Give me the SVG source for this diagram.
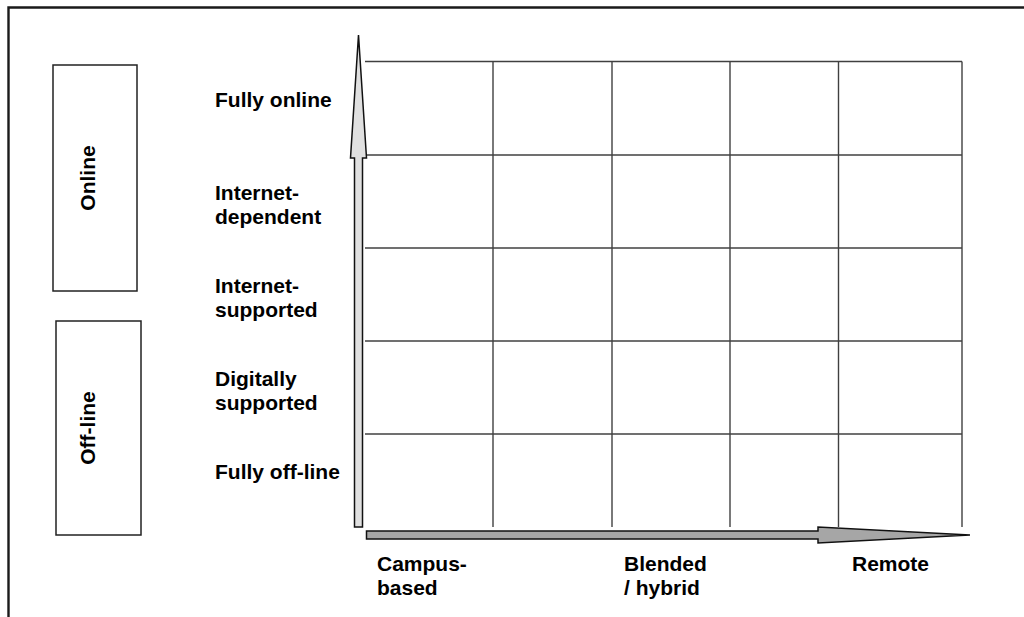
<svg xmlns="http://www.w3.org/2000/svg" width="1024" height="617" viewBox="0 0 1024 617">
<style>
.lbl{font-family:"Liberation Sans",Arial,sans-serif;font-weight:bold;font-size:21px;fill:#000}
.grid line{stroke:#404040;stroke-width:1.4}
.box{fill:#fff;stroke:#222;stroke-width:1.5}
</style>
<rect width="1024" height="617" fill="#fff"/>
<g id="frame">
<path d="M8.5,617 V7.5 H1024" fill="none" stroke="#1a1a1a" stroke-width="2.4"/>
</g>
<g id="online">
<rect class="box" x="53" y="65" width="84" height="226"/>
<text class="lbl" transform="translate(95,178) rotate(-90)" text-anchor="middle">Online</text>
</g>
<g id="offline">
<rect class="box" x="56" y="321" width="85" height="214"/>
<text class="lbl" transform="translate(95,428) rotate(-90)" text-anchor="middle">Off-line</text>
</g>
<g id="row-labels">
<text class="lbl" x="215" y="107">Fully online</text>
<text class="lbl" x="215" y="200">Internet-</text>
<text class="lbl" x="215" y="224">dependent</text>
<text class="lbl" x="215" y="293">Internet-</text>
<text class="lbl" x="215" y="317">supported</text>
<text class="lbl" x="215" y="386">Digitally</text>
<text class="lbl" x="215" y="410">supported</text>
<text class="lbl" x="215" y="479">Fully off-line</text>
</g>
<g id="col-labels">
<text class="lbl" x="377" y="571">Campus-</text>
<text class="lbl" x="377" y="595">based</text>
<text class="lbl" x="624" y="571">Blended</text>
<text class="lbl" x="624" y="595">/ hybrid</text>
<text class="lbl" x="852" y="571">Remote</text>
</g>
<g id="grid" class="grid">
<line x1="365" y1="61.5" x2="962" y2="61.5"/>
<line x1="365" y1="155" x2="962" y2="155"/>
<line x1="365" y1="248" x2="962" y2="248"/>
<line x1="365" y1="341" x2="962" y2="341"/>
<line x1="365" y1="434" x2="962" y2="434"/>
<line x1="493" y1="61.5" x2="493" y2="527"/>
<line x1="612" y1="61.5" x2="612" y2="527"/>
<line x1="730" y1="61.5" x2="730" y2="527"/>
<line x1="838.5" y1="61.5" x2="838.5" y2="527"/>
<line x1="962" y1="61.5" x2="962" y2="527"/>
</g>
<g id="connectors">
<path d="M354.5,527 V158 H350.5 L358.5,35 L366.5,158 H362.5 V527 Z" fill="#e0e0e0" stroke="#111" stroke-width="1.5" stroke-linejoin="miter"/>
<path d="M366.5,531 H818 V527 L970,535 L818,543 V539 H366.5 Z" fill="#a6a6a6" stroke="#111" stroke-width="1.5"/>
</g>
</svg>
